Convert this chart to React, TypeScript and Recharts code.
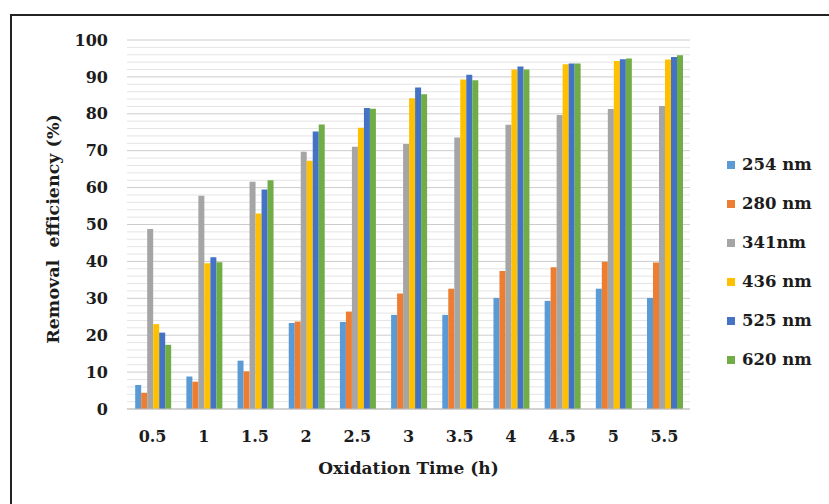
import { BarChart, Bar, XAxis, YAxis, CartesianGrid, Label } from 'recharts'

const categories = ['0.5', '1', '1.5', '2', '2.5', '3', '3.5', '4', '4.5', '5', '5.5']
const s254 = [6.5, 8.8, 13.1, 23.3, 23.6, 25.5, 25.5, 30.1, 29.3, 32.6, 30.1]
const s280 = [4.4, 7.4, 10.2, 23.7, 26.4, 31.3, 32.6, 37.4, 38.4, 39.9, 39.7]
const s341 = [48.8, 57.8, 61.6, 69.7, 71.1, 71.8, 73.6, 77.0, 79.7, 81.3, 82.1]
const s436 = [23.0, 39.5, 53.0, 67.3, 76.2, 84.2, 89.3, 92.0, 93.4, 94.3, 94.7]
const s525 = [20.7, 41.1, 59.5, 75.2, 81.6, 87.1, 90.6, 92.8, 93.6, 94.8, 95.4]
const s620 = [17.4, 39.8, 62.0, 77.1, 81.4, 85.3, 89.1, 92.0, 93.6, 95.0, 95.9]
const yTicks = [0, 10, 20, 30, 40, 50, 60, 70, 80, 90, 100]

const series = [
  { key: 's254', name: '254 nm', color: '#5B9BD5', values: s254 },
  { key: 's280', name: '280 nm', color: '#ED7D31', values: s280 },
  { key: 's341', name: '341nm', color: '#A5A5A5', values: s341 },
  { key: 's436', name: '436 nm', color: '#FFC000', values: s436 },
  { key: 's525', name: '525 nm', color: '#4472C4', values: s525 },
  { key: 's620', name: '620 nm', color: '#70AD47', values: s620 },
]

const data = categories.map((c, i) => {
  const row: any = { t: c }
  series.forEach(s => { row[s.key] = s.values[i] })
  return row
})

// minor gridlines every 2 units, major every 10
const minorLines: number[] = []
for (let v = 2; v < 100; v += 2) if (v % 10 !== 0) minorLines.push(v)

const font = '"DejaVu Serif", "Liberation Serif", serif'
const ink = '#1c1c1c'

function LegendBox() {
  return (
    <div style={{ position: 'absolute', left: 727, top: 145, fontFamily: font, fontWeight: 700, fontSize: 16.5, color: ink }}>
      {series.map(s => (
        <div key={s.key} style={{ height: 39, display: 'flex', alignItems: 'center', whiteSpace: 'nowrap' }}>
          <span style={{ display: 'inline-block', width: 8, height: 8, background: s.color, marginRight: 7 }} />
          <span>{s.name}</span>
        </div>
      ))}
    </div>
  )
}

export default function App() {
  return (
    <div style={{ position: 'absolute', left: 0, top: 0, width: 829, height: 504, background: '#fff' }}>
      <div style={{ position: 'absolute', left: 10, top: 14, right: 0, bottom: 0, borderTop: '2px solid #222', borderLeft: '2px solid #222' }} />
      <div style={{ position: 'absolute', left: 0, top: 0 }}>
        <BarChart
          width={829}
          height={504}
          data={data}
          margin={{ top: 40, right: 139, bottom: 35, left: 67 }}
          barCategoryGap="16%"
          barGap={0}
        >
          <CartesianGrid vertical={false} horizontalValues={minorLines} stroke="#e4e4e4" />
          <CartesianGrid vertical={false} horizontalValues={yTicks} stroke="#cccccc" />
          <XAxis
            dataKey="t"
            height={60}
            axisLine={{ stroke: '#bfbfbf' }}
            tickLine={false}
            tickSize={0}
            tickMargin={22}
            tick={{ fontFamily: font, fontWeight: 700, fontSize: 16, fill: ink }}
          >
            <Label value="Oxidation Time (h)" position="insideBottom" offset={-5}
              style={{ fontFamily: font, fontWeight: 700, fontSize: 17, fill: ink }} />
          </XAxis>
          <YAxis
            width={60}
            domain={[0, 100]}
            ticks={yTicks}
            interval={0}
            axisLine={false}
            tickLine={false}
            tickSize={0}
            tickMargin={19}
            tick={{ fontFamily: font, fontWeight: 700, fontSize: 16, fill: ink }}
          >
            <Label
              content={() => (
                <text transform="translate(53,229) rotate(-90)" textAnchor="middle" dominantBaseline="central"
                  style={{ fontFamily: font, fontWeight: 700, fontSize: 17.5, fill: ink, whiteSpace: 'pre' }}>
                  Removal  efficiency (%)
                </text>
              )}
            />
          </YAxis>
          {series.map(s => (
            <Bar key={s.key} dataKey={s.key} name={s.name} fill={s.color} isAnimationActive={false} />
          ))}
        </BarChart>
      </div>
      <LegendBox />
    </div>
  )
}
